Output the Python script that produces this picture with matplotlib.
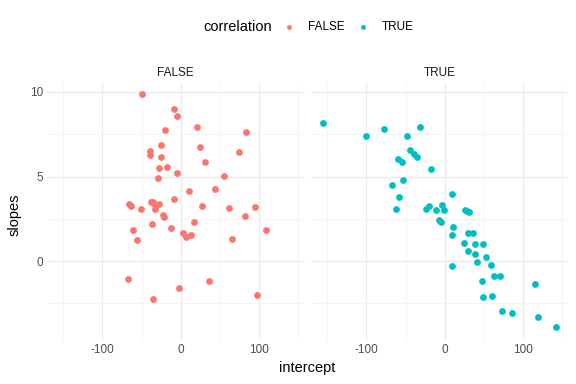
import numpy as np
import matplotlib
matplotlib.use("Agg")
import matplotlib.pyplot as plt
from matplotlib.ticker import FixedLocator

plt.rcParams["font.family"] = ["Liberation Sans", "DejaVu Sans"]
plt.rcParams["axes.unicode_minus"] = False

# correlation == FALSE
false_intercept = [-49.4, -8.5, -4.7, -20.0, 20.9, 83.8, -25.1, 24.7, -39.1, -39.1,
                   74.9, -24.7, 31.1, -28.1, -17.4, -4.3, 55.3, -28.9, 44.3, 11.1,
                   -8.5, -65.5, -63.8, -38.3, -34.9, -32.3, -28.1, -32.8, -50.2, 27.2,
                   61.7, 94.9, -23.0, -21.3, 82.1, -36.6, 16.6, -12.3, -60.9, 109.8,
                   3.4, 6.4, 12.8, -56.2, 65.5, -67.2, 36.2, -2.1, -35.3, 97.9]
false_slopes = [9.88, 8.99, 8.60, 7.77, 7.91, 7.63, 6.88, 6.73, 6.53, 6.25,
                6.43, 6.15, 5.88, 5.52, 5.56, 5.21, 5.05, 4.89, 4.28, 4.16,
                3.67, 3.39, 3.25, 3.49, 3.47, 3.31, 3.37, 3.10, 3.10, 3.27,
                3.14, 3.21, 2.74, 2.60, 2.68, 2.21, 2.33, 1.97, 1.83, 1.87,
                1.68, 1.42, 1.54, 1.26, 1.32, -1.05, -1.16, -1.60, -2.25, -2.01]

# correlation == TRUE
true_intercept = [-155.3, -100.9, -77.9, -31.9, -48.5, -44.7, -39.1, -34.9, -59.1, -54.0,
                  -17.4, -52.8, -66.8, -57.9, -62.1, 8.9, -24.3, -20.4, -11.1, -3.0,
                  -0.4, -7.7, -4.7, 26.4, 28.9, 31.5, 11.1, 30.2, 37.0, 8.9,
                  25.1, 38.7, 49.4, 29.8, 39.1, 53.6, 41.3, 8.9, 60.0, 63.8,
                  71.5, 47.7, 115.7, 49.4, 60.9, 74.0, 86.4, 119.1, 143.0]
true_slopes = [8.15, 7.38, 7.81, 7.91, 7.38, 6.59, 6.35, 6.13, 6.04, 5.86,
               5.44, 4.79, 4.50, 3.81, 3.10, 3.96, 3.06, 3.25, 3.04, 3.31,
               3.00, 2.43, 2.33, 3.04, 2.96, 2.88, 2.03, 1.66, 1.66, 1.54,
               1.05, 1.03, 1.01, 0.61, 0.43, 0.22, -0.06, -0.28, -0.24, -0.87,
               -0.85, -1.16, -1.34, -2.13, -2.05, -2.92, -3.06, -3.29, -3.91]

groups = ["FALSE", "TRUE"]
colors = {"FALSE": "#F8766D", "TRUE": "#00BFC4"}
data = {"FALSE": (false_intercept, false_slopes), "TRUE": (true_intercept, true_slopes)}

W, H = 576, 384
fig = plt.figure(figsize=(6, 4), dpi=96)

panels = {"FALSE": 47, "TRUE": 311}
handles = []
for g in groups:
    ax = fig.add_axes([panels[g] / W, (H - 340) / H, 257 / W, 257 / H])
    ax.set_xlim(-171, 158)
    ax.set_ylim(-4.66, 10.53)
    ax.xaxis.set_major_locator(FixedLocator([-100, 0, 100]))
    ax.xaxis.set_minor_locator(FixedLocator([-150, -50, 50, 150]))
    ax.yaxis.set_major_locator(FixedLocator([0, 5, 10]))
    ax.yaxis.set_minor_locator(FixedLocator([-2.5, 2.5, 7.5]))
    ax.grid(True, which="major", color="#EBEBEB", linewidth=1.0)
    ax.grid(True, which="minor", color="#F2F2F2", linewidth=0.6)
    ax.set_axisbelow(True)
    for s in ax.spines.values():
        s.set_visible(False)
    ax.tick_params(which="both", length=0, labelsize=8.8, labelcolor="#4D4D4D", pad=3)
    if g == "TRUE":
        ax.tick_params(axis="y", labelleft=False)
    x, y = data[g]
    h = ax.scatter(x, y, s=26, color=colors[g], linewidths=0, zorder=3)
    handles.append(h)
    ax.set_title(g, fontsize=8.8, color="#1A1A1A", pad=5)

fig.text(307 / W, 1 - 368 / H, "intercept", ha="center", va="center", fontsize=11)
fig.text(15 / W, 1 - 215 / H, "slopes", ha="center", va="center", rotation=90, fontsize=11)

fig.text(203 / W, 1 - 27 / H, "correlation", ha="left", va="center", fontsize=11)
fig.legend(handles, groups, loc="center left", bbox_to_anchor=(283 / W, 1 - 27 / H),
           ncol=2, frameon=False, fontsize=8.8, handletextpad=1.1, columnspacing=1.1,
           handlelength=1.0, markerscale=0.7, borderaxespad=0, borderpad=0)

fig.savefig("out.png", dpi=96)
